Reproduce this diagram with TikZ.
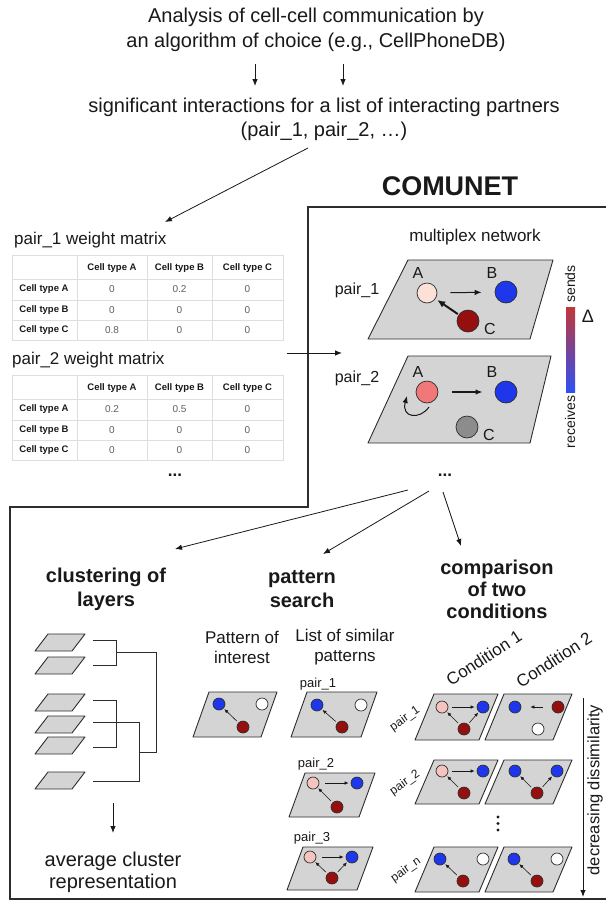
\documentclass[tikz,border=0pt]{standalone}
\usepackage{fontspec}
\setmainfont{Liberation Sans}
\usetikzlibrary{arrows.meta,calc}

\definecolor{cblue}{RGB}{30,55,235}
\definecolor{cred}{RGB}{150,15,15}
\definecolor{cpeach}{RGB}{252,226,214}
\definecolor{csalmon}{RGB}{240,120,120}
\definecolor{cpink}{RGB}{246,196,190}
\definecolor{cgrey}{RGB}{140,140,140}
\definecolor{planefill}{RGB}{212,212,212}
\definecolor{edgec}{RGB}{45,45,45}
\definecolor{gridc}{RGB}{222,222,222}
\definecolor{valc}{RGB}{95,95,95}
\definecolor{inkc}{RGB}{25,25,25}

\newcommand\fs[2]{\fontsize{#1}{#2}\selectfont}
% parallelogram layer: top-left x, y, width, height, shear
\newcommand\panel[5]{\draw[plane] (#1,#2) -- ++(#3,0) -- ++(-#5,#4) -- ++(-#3,0) -- cycle;}

\begin{document}
\begin{tikzpicture}[x=1pt,y=-1pt,
  txt/.style={inner sep=0pt, align=center, text=inkc},
  arr/.style={-{Latex[length=7pt,width=5.5pt]}, line width=0.8pt, draw=inkc},
  bigarr/.style={-{Latex[length=8pt,width=7pt]}, line width=2pt, draw=inkc},
  miniarr/.style={-{Latex[length=4pt,width=3.5pt]}, line width=0.6pt, draw=inkc},
  frame/.style={draw=edgec, line width=1.2pt},
  plane/.style={draw=edgec, fill=planefill, line width=0.9pt, line join=round},
  cell/.style={circle, draw=edgec, line width=0.7pt, inner sep=0pt, minimum size=#1},
  cell/.default=12pt,
  grid/.style={draw=gridc, line width=0.6pt},
  hd/.style={inner sep=0pt, font=\bfseries\fs{9.5}{11}, text=inkc},
  val/.style={inner sep=0pt, font=\fs{10}{12}, text=valc},
  dend/.style={draw=edgec, line width=0.9pt}]

\useasboundingbox (0,0) rectangle (606,906);
\fill[white] (0,0) rectangle (606,906);

% ---------- input ----------
\node[txt, font=\fs{20}{25}] (intro) at (316,30)
  {Analysis of cell-cell communication by\\an algorithm of choice (e.g., CellPhoneDB)};
\coordinate (d1s) at (255,64); \coordinate (d1e) at (255,86);
\coordinate (d2s) at (343,64); \coordinate (d2e) at (343,86);
\draw[arr] (d1s) -- (d1e);
\draw[arr] (d2s) -- (d2e);
\node[txt, font=\fs{20}{24}] (sig) at (324,119)
  {significant interactions for a list of interacting partners\\(pair\_1, pair\_2, …)};
\coordinate (sigfoot) at (308,148); \coordinate (mattop) at (165,222);
\draw[arr] (sigfoot) -- (mattop);

\node[txt, font=\bfseries\fs{27}{30}] (comunet) at (450,186) {COMUNET};

% ---------- frame ----------
\draw[frame] (606,207) -- (308,207) -- (308,507) -- (10,507) -- (10,899) -- (606,899);

% ---------- weight matrices ----------
\node[txt, font=\fs{17}{20}, anchor=west] (w1) at (14,240) {pair\_1 weight matrix};
\node[txt, font=\fs{17}{20}, anchor=west] (w2) at (12,360) {pair\_2 weight matrix};

\foreach \T/\m in {255/1,375/2}{
  \draw[grid] (12,\T) rectangle (283,\T+85);
  \foreach \yy in {24,45,65} \draw[grid] (12,\T+\yy) -- (283,\T+\yy);
  \foreach \xx in {77,147,212} \draw[grid] (\xx,\T) -- (\xx,\T+85);
  \node[hd] (m\m hA) at (112,\T+13) {Cell type A};
  \node[hd] (m\m hB) at (179.5,\T+13) {Cell type B};
  \node[hd] (m\m hC) at (247.5,\T+13) {Cell type C};
  \foreach \r/\lab in {1/A,2/B,3/C}
    \node[hd] (m\m r\r) at (44,\T+14+\r*20.5) {Cell type \lab};
}
\foreach \r/\a/\b/\c in {1/0/0.2/0,2/0/0/0,3/0.8/0/0}{
  \node[val] (m1v\r a) at (112,255+14+\r*20.5) {\a};
  \node[val] (m1v\r b) at (179.5,255+14+\r*20.5) {\b};
  \node[val] (m1v\r c) at (247.5,255+14+\r*20.5) {\c};
}
\foreach \r/\a/\b/\c in {1/0.2/0.5/0,2/0/0/0,3/0/0/0}{
  \node[val] (m2v\r a) at (112,375+14+\r*20.5) {\a};
  \node[val] (m2v\r b) at (179.5,375+14+\r*20.5) {\b};
  \node[val] (m2v\r c) at (247.5,375+14+\r*20.5) {\c};
}
\node[txt, font=\bfseries\fs{17}{20}] (mdots) at (175,475) {...};

\coordinate (m2net) at (287,353); \coordinate (netin) at (342,353);
\draw[arr] (m2net) -- (netin);

% ---------- multiplex network ----------
\node[txt, font=\fs{17}{20}] (mplex) at (475,237) {multiplex network};

\draw[plane] (408,260) -- (553,260) -- (530,339) -- (368,339) -- cycle;
\draw[plane] (408,356) -- (551,356) -- (530,443) -- (368,443) -- cycle;
\node[txt, font=\fs{16}{19}] (p1) at (357,290) {pair\_1};
\node[txt, font=\fs{16}{19}] (p2) at (357,378) {pair\_2};

\node[cell=20pt, fill=cpeach] (nA1) at (427,293) {};
\node[cell=22pt, fill=cblue] (nB1) at (506,292) {};
\node[cell=22pt, fill=cred] (nC1) at (468,321) {};
\node[txt, font=\fs{16}{19}] (lA1) at (418,273) {A};
\node[txt, font=\fs{16}{19}] (lB1) at (492,273) {B};
\node[txt, font=\fs{16}{19}] (lC1) at (490,329) {C};
\draw[arr, line width=1pt, shorten <=13pt, shorten >=13pt] (nA1) -- (nB1);
\draw[bigarr, shorten <=1pt, shorten >=2pt] (nC1) -- (nA1);

\node[cell=22pt, fill=csalmon] (nA2) at (427,392) {};
\node[cell=22pt, fill=cblue] (nB2) at (506,392) {};
\node[cell=22pt, fill=cgrey] (nC2) at (467,427) {};
\node[txt, font=\fs{16}{19}] (lA2) at (418,372) {A};
\node[txt, font=\fs{16}{19}] (lB2) at (492,372) {B};
\node[txt, font=\fs{16}{19}] (lC2) at (489,435) {C};
\draw[arr, line width=1.6pt, shorten <=14pt, shorten >=12pt] (nA2) -- (nB2);
\coordinate (loopstart) at (429,407); \coordinate (loopend) at (407,396);
\draw[arr, line width=1pt] (loopstart) .. controls (420,420) and (401,418) .. (loopend);

% colour scale
\shade[top color={rgb,255:red,195;green,55;blue,55}, middle color={rgb,255:red,88;green,88;blue,92},
       bottom color={rgb,255:red,45;green,80;blue,245}] (566,307) rectangle (575,392);
\node[txt, font=\fs{14}{16}, rotate=90] (sends) at (570,284) {sends};
\node[txt, font=\fs{14}{16}, rotate=90] (recv) at (570,422) {receives};
\node[txt, font=\fs{18}{20}] (delta) at (588,316) {Δ};

\node[txt, font=\bfseries\fs{17}{20}] (ndots) at (445,475) {...};

% ---------- three analyses ----------
\coordinate (fa) at (408,490); \coordinate (fb) at (429,491); \coordinate (fc) at (443,492);
\coordinate (ta) at (175,549); \coordinate (tb) at (323,554); \coordinate (tc) at (461,546);
\draw[arr] (fa) -- (ta);
\draw[arr] (fb) -- (tb);
\draw[arr] (fc) -- (tc);

\node[txt, font=\bfseries\fs{20}{24}] (hclu) at (106,589) {clustering of\\layers};
\node[txt, font=\bfseries\fs{20}{24}] (hpat) at (302,589) {pattern\\search};
\node[txt, font=\bfseries\fs{20}{22}] (hcmp) at (497,589) {comparison\\of two\\conditions};

% ---------- clustering of layers ----------
\foreach \yy in {634,657,694,716,737,772} \panel{48}{\yy}{37}{17}{13}
\draw[dend] (93,640) -- (116,640) -- (116,665) -- (93,665);
\draw[dend] (116,652) -- (156,652) -- (156,752) -- (139,752);
\draw[dend] (93,700) -- (116,700) -- (116,747) -- (93,747);
\draw[dend] (93,722) -- (139,722) -- (139,781) -- (93,781);
\coordinate (clus) at (113,803); \coordinate (avg) at (113,833);
\draw[arr] (clus) -- (avg);
\node[txt, font=\fs{20}{22}] (avgtxt) at (113,872) {average cluster\\representation};

% ---------- pattern search ----------
\node[txt, font=\fs{17}{20}] (poi) at (242,647) {Pattern of\\interest};
\node[txt, font=\fs{17}{20}] (los) at (345,647) {List of similar\\patterns};

\panel{209}{692}{68}{45}{16}
\node[cell, fill=cblue] (q1) at (219,704) {};
\node[cell, fill=white] (q2) at (262,704) {};
\node[cell, fill=cred] (q3) at (243,727) {};
\draw[miniarr, shorten <=2pt, shorten >=1pt] (q3) -- (q1);

\node[txt, font=\fs{13}{15}] (s1l) at (318,684) {pair\_1};
\panel{307}{692}{70}{45}{16}
\node[cell, fill=cblue] (s1a) at (317,705) {};
\node[cell, fill=white] (s1b) at (361,705) {};
\node[cell, fill=cred] (s1c) at (342,727) {};
\draw[miniarr, shorten <=2pt, shorten >=1pt] (s1c) -- (s1a);

\node[txt, font=\fs{13}{15}] (s2l) at (316,764) {pair\_2};
\panel{305}{773}{70}{44}{16}
\node[cell, fill=cpink] (s2a) at (313,783) {};
\node[cell, fill=cblue] (s2b) at (357,783) {};
\node[cell, fill=cred] (s2c) at (337,807) {};
\draw[miniarr, shorten <=6pt, shorten >=2pt] (s2a) -- (s2b);
\draw[miniarr, shorten <=2pt, shorten >=1pt] (s2c) -- (s2a);

\node[txt, font=\fs{13}{15}] (s3l) at (312,838) {pair\_3};
\panel{303}{847}{70}{43}{16}
\node[cell, fill=cpink] (s3a) at (310,857) {};
\node[cell, fill=cblue] (s3b) at (352,857) {};
\node[cell, fill=cred] (s3c) at (332,878) {};
\draw[miniarr, shorten <=6pt, shorten >=2pt] (s3a) -- (s3b);
\draw[miniarr, shorten <=2pt, shorten >=1pt] (s3c) -- (s3a);
\draw[miniarr, shorten <=2pt, shorten >=1pt] (s3c) -- (s3b);

% ---------- comparison of two conditions ----------
\node[txt, font=\fs{17}{20}, rotate=33] (cond1) at (484,658) {Condition 1};
\node[txt, font=\fs{17}{20}, rotate=33] (cond2) at (554,660) {Condition 2};

\node[txt, font=\fs{12}{14}, rotate=35] (r1l) at (405,719) {pair\_1};
\node[txt, font=\fs{12}{14}, rotate=35] (r2l) at (405,783) {pair\_2};
\node[txt, font=\fs{12}{14}, rotate=35] (r3l) at (406,870) {pair\_n};

% row 1
\panel{434}{694}{64}{46}{19}
\panel{504}{694}{68}{46}{19}
\node[cell, fill=cpink] (a1p) at (442,707) {};
\node[cell, fill=cblue] (a1b) at (483,707) {};
\node[cell, fill=cred] (a1r) at (464,729) {};
\draw[miniarr, shorten <=4pt, shorten >=2pt] (a1p) -- (a1b);
\draw[miniarr, shorten <=2pt, shorten >=1pt] (a1r) -- (a1p);
\draw[miniarr, shorten <=2pt, shorten >=1pt] (a1r) -- (a1b);
\node[cell, fill=cblue] (b1b) at (515,707) {};
\node[cell, fill=cred] (b1r) at (558,707) {};
\node[cell, fill=white] (b1w) at (538,729) {};
\draw[miniarr, shorten <=9pt, shorten >=9pt] (b1r) -- (b1b);

% row 2
\panel{434}{760}{64}{44}{19}
\panel{504}{760}{68}{44}{19}
\node[cell, fill=cpink] (a2p) at (442,771) {};
\node[cell, fill=cblue] (a2b) at (483,771) {};
\node[cell, fill=cred] (a2r) at (464,793) {};
\draw[miniarr, shorten <=4pt, shorten >=2pt] (a2p) -- (a2b);
\draw[miniarr, shorten <=2pt, shorten >=1pt] (a2r) -- (a2p);
\node[cell, fill=cblue] (b2l) at (515,771) {};
\node[cell, fill=cblue] (b2r) at (557,771) {};
\node[cell, fill=cred] (b2c) at (537,793) {};
\draw[miniarr, shorten <=2pt, shorten >=1pt] (b2c) -- (b2l);
\draw[miniarr, shorten <=2pt, shorten >=1pt] (b2c) -- (b2r);

% vertical ellipsis
\foreach \yy in {817,823.5,830} \fill[inkc] (498,\yy) circle (1.6pt);

% row n
\panel{434}{847}{64}{45}{19}
\panel{504}{847}{68}{45}{19}
\node[cell, fill=cblue] (a3b) at (440,859) {};
\node[cell, fill=white] (a3w) at (483,859) {};
\node[cell, fill=cred] (a3r) at (463,881) {};
\draw[miniarr, shorten <=2pt, shorten >=1pt] (a3r) -- (a3b);
\node[cell, fill=cblue] (b3b) at (514,859) {};
\node[cell, fill=white] (b3w) at (557,859) {};
\node[cell, fill=cred] (b3r) at (537,881) {};
\draw[miniarr, shorten <=2pt, shorten >=1pt] (b3r) -- (b3b);

\coordinate (dtop) at (583,698); \coordinate (dbot) at (583,897);
\draw[arr, line width=1pt] (dtop) -- (dbot);
\node[txt, font=\fs{16.5}{19}, rotate=90] (dis) at (595,790) {decreasing dissimilarity};

\end{tikzpicture}
\end{document}
